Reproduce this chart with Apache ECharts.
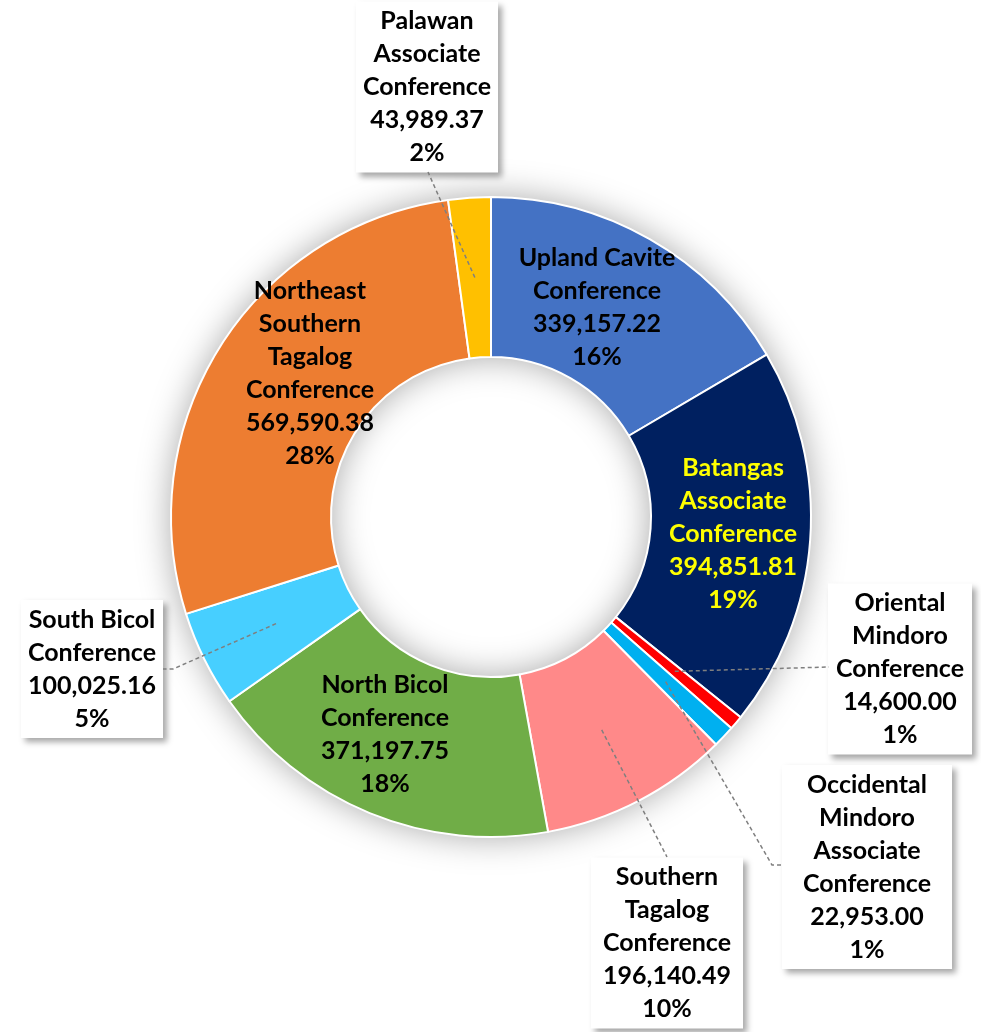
<!DOCTYPE html>
<html>
<head>
<meta charset="utf-8">
<script src="https://cdn.jsdelivr.net/npm/echarts@6/dist/echarts.min.js"></script>
<style>
  html, body { margin: 0; padding: 0; background: #fff; }
  #main { width: 981px; height: 1032px; }
</style>
</head>
<body>
<div id="main"></div>
<script>
var categories = [
    'Upland Cavite\nConference',
    'Batangas\nAssociate\nConference',
    'Oriental\nMindoro\nConference',
    'Occidental\nMindoro\nAssociate\nConference',
    'Southern\nTagalog\nConference',
    'North Bicol\nConference',
    'South Bicol\nConference',
    'Northeast\nSouthern\nTagalog\nConference',
    'Palawan\nAssociate\nConference'
];
var values = [339157.22, 394851.81, 14600.00, 22953.00, 196140.49, 371197.75, 100025.16, 569590.38, 43989.37];
var percents = ['16%', '19%', '1%', '1%', '10%', '18%', '5%', '28%', '2%'];
var colors = ['#4472C4', '#002060', '#FF0000', '#00B0F0', '#FF8989', '#70AD47', '#47CFFF', '#ED7D31', '#FFC000'];
var textColors = ['#000', '#FFFF00', '#000', '#000', '#000', '#000', '#000', '#000', '#000'];

// layout of the ring and of the label boxes
var CX = 491, CY = 517, R_IN = 160, R_OUT = 320;
var labelPos = [[597, 307], [733, 534], [900, 669], [867, 867], [667, 943], [385, 734], [92, 669], [310, 373], [427, 87]];
var boxPad = [null, null, [3, 8], [3, 21], [3, 12], null, [3, 7], null, [3, 7]];
// where each leader line meets its box (null = label sits on its slice)
var leaderEnd = [null, null, [[829, 667]], [[772, 865], [783, 865]], [[667, 857]], null, [[173, 669], [163, 669]], null, [[428, 172]]];

var total = values.reduce(function (a, b) { return a + b; }, 0);
var midAngle = [];
(function () {
    var cum = 0;
    values.forEach(function (v) {
        midAngle.push(2 * Math.PI * (cum + v / 2) / total);
        cum += v;
    });
})();

function fmt(v) {
    return v.toLocaleString('en-US', { minimumFractionDigits: 2, maximumFractionDigits: 2 });
}

var data = values.map(function (v, i) {
    var boxed = !!boxPad[i];
    return {
        name: categories[i],
        value: v,
        itemStyle: { color: colors[i] },
        label: boxed ? {
            color: textColors[i],
            backgroundColor: '#fff',
            padding: boxPad[i],
            shadowBlur: 6,
            shadowOffsetX: 4,
            shadowOffsetY: 4,
            shadowColor: 'rgba(0,0,0,0.35)'
        } : {
            color: textColors[i],
            padding: [3, 8]
        }
    };
});

// dashed leader lines from the middle of the ring to the boxes
var leaders = [];
leaderEnd.forEach(function (ends, i) {
    if (!ends) return;
    var rm = (R_IN + R_OUT) / 2;
    var pts = [[CX + rm * Math.sin(midAngle[i]), CY - rm * Math.cos(midAngle[i])]].concat(ends);
    leaders.push({
        type: 'polyline',
        z: 10,
        silent: true,
        shape: { points: pts },
        style: { stroke: '#7F7F7F', lineWidth: 1.5, lineDash: [4, 3], fill: null }
    });
});

var myChart = echarts.init(document.getElementById('main'));
var option = {
    backgroundColor: '#fff',
    animation: false,
    graphic: leaders,
    series: [{
        // plain ring underneath, only to cast the soft shadow
        type: 'pie',
        silent: true,
        center: [CX, CY],
        radius: [R_IN, R_OUT],
        z: 1,
        label: { show: false },
        labelLine: { show: false },
        itemStyle: { color: '#fff', shadowBlur: 35, shadowColor: 'rgba(0,0,0,0.35)' },
        data: [{ value: 1 }]
    }, {
        type: 'pie',
        center: [CX, CY],
        radius: [R_IN, R_OUT],
        startAngle: 90,
        clockwise: true,
        avoidLabelOverlap: false,
        z: 2,
        itemStyle: { borderColor: '#fff', borderWidth: 2 },
        label: {
            show: true,
            position: 'outside',
            fontFamily: 'Lato',
            fontWeight: 'bold',
            fontSize: 25,
            lineHeight: 33,
            align: 'center',
            formatter: function (p) {
                var i = p.dataIndex;
                return categories[i] + '\n' + fmt(values[i]) + '\n' + percents[i];
            }
        },
        labelLine: { show: false },
        labelLayout: function (p) {
            var pos = labelPos[p.dataIndex];
            return { x: pos[0], y: pos[1], align: 'center', verticalAlign: 'middle' };
        },
        data: data
    }]
};
myChart.setOption(option);
</script>
</body>
</html>
